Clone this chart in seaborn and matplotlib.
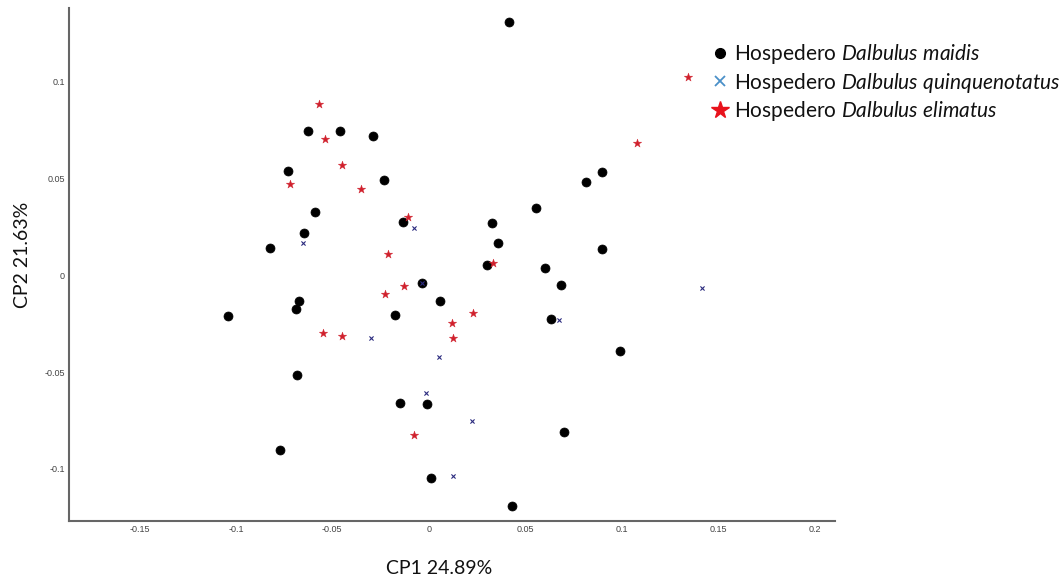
import matplotlib
matplotlib.use("Agg")
import matplotlib.pyplot as plt
from matplotlib.lines import Line2D
import pandas as pd
import seaborn as sns

# PCA scores (CP1, CP2) per host group
maidis_cp1 = [0.0416, -0.0627, -0.0460, -0.0290, -0.0729, -0.0233, -0.0588, -0.0132,
              -0.0648, -0.0823, -0.0035, -0.0671, -0.0686, -0.1039, -0.0173, -0.0684,
              0.0060, 0.0328, 0.0361, 0.0301, 0.0556, 0.0814, 0.0898, 0.0605,
              0.0898, 0.0687, 0.0634, 0.0992, -0.0149, -0.0009, -0.0771, 0.0010,
              0.0703, 0.0430]
maidis_cp2 = [0.1309, 0.0745, 0.0747, 0.0720, 0.0537, 0.0492, 0.0325, 0.0275,
              0.0218, 0.0141, -0.0041, -0.0134, -0.0176, -0.0209, -0.0205, -0.0515,
              -0.0131, 0.0268, 0.0168, 0.0052, 0.0349, 0.0482, 0.0532, 0.0039,
              0.0137, -0.0050, -0.0226, -0.0393, -0.0661, -0.0665, -0.0901, -0.1049,
              -0.0808, -0.1190]

quinque_cp1 = [-0.0653, -0.0075, -0.0298, 0.0055, 0.0674, 0.1417, -0.0014, 0.0226,
               0.0124, -0.0035]
quinque_cp2 = [0.0165, 0.0246, -0.0322, -0.0422, -0.0231, -0.0066, -0.0610, -0.0753,
               -0.1038, -0.0041]

elimatus_cp1 = [-0.0569, -0.0538, -0.0448, -0.0717, -0.0349, -0.0109, -0.0211, -0.0126,
                -0.0225, -0.0546, -0.0451, 0.0333, 0.0228, 0.0121, 0.0126, -0.0075,
                0.1081, 0.1346]
elimatus_cp2 = [0.0885, 0.0702, 0.0568, 0.0473, 0.0447, 0.0303, 0.0112, -0.0054,
                -0.0095, -0.0298, -0.0312, 0.0064, -0.0196, -0.0245, -0.0322, -0.0825,
                0.0682, 0.1026]

x_ticks = [-0.15, -0.1, -0.05, 0, 0.05, 0.1, 0.15, 0.2]
x_tick_labels = ["-0.15", "-0.1", "-0.05", "0", "0.05", "0.1", "0.15", "0.2"]
y_ticks = [-0.1, -0.05, 0, 0.05, 0.1]
y_tick_labels = ["-0.1", "-0.05", "0", "0.05", "0.1"]

legend_labels = [
    r"Hospedero $\mathit{Dalbulus\ maidis}$",
    r"Hospedero $\mathit{Dalbulus\ quinquenotatus}$",
    r"Hospedero $\mathit{Dalbulus\ elimatus}$",
]

sns.set_style("white")
plt.rcParams["font.family"] = ["Lato", "DejaVu Sans"]
plt.rcParams["mathtext.fontset"] = "custom"
plt.rcParams["mathtext.rm"] = "Lato"
plt.rcParams["mathtext.it"] = "Lato:italic"

fig = plt.figure(figsize=(10.63, 5.86), dpi=100)
ax = fig.add_axes([0.0649, 0.1114, 0.7206, 0.8749])

df_m = pd.DataFrame({"cp1": maidis_cp1, "cp2": maidis_cp2})
df_q = pd.DataFrame({"cp1": quinque_cp1, "cp2": quinque_cp2})
df_e = pd.DataFrame({"cp1": elimatus_cp1, "cp2": elimatus_cp2})

sns.scatterplot(data=df_m, x="cp1", y="cp2", ax=ax, marker="o", s=42,
                color="black", edgecolor="black", linewidth=0.5, zorder=2)
sns.scatterplot(data=df_e, x="cp1", y="cp2", ax=ax, marker="*", s=40,
                color="#d0202c", edgecolor="#d0202c", linewidth=0.3, zorder=3)
sns.scatterplot(data=df_q, x="cp1", y="cp2", ax=ax, marker="x", s=9,
                color="#2a2a7e", linewidth=0.8, zorder=4)

ax.set_xlim(-0.1865, 0.2106)
ax.set_ylim(-0.1268, 0.138)
ax.set_xticks(x_ticks)
ax.set_xticklabels(x_tick_labels, family=["Liberation Sans", "DejaVu Sans"])
ax.set_yticks(y_ticks)
ax.set_yticklabels(y_tick_labels, family=["Liberation Sans", "DejaVu Sans"])
ax.tick_params(axis="both", direction="in", length=9, width=1.0, color="#333333",
               labelsize=6.5, labelcolor="#444444", pad=3)

for side in ("top", "right"):
    ax.spines[side].set_visible(False)
for side in ("left", "bottom"):
    ax.spines[side].set_color("#666666")
    ax.spines[side].set_linewidth(1.5)

ax.set_xlabel("")
ax.set_ylabel("")
fig.text(439 / 1063, 1 - 569 / 586, "CP1 24.89%", ha="center", va="center",
         fontsize=14, color="#111111")
fig.text(22 / 1063, 1 - 255 / 586, "CP2 21.63%", ha="center", va="center",
         rotation=90, fontsize=14, color="#111111")

handles = [
    Line2D([], [], linestyle="none", marker="o", markersize=7, color="black"),
    Line2D([], [], linestyle="none", marker="x", markersize=7, markeredgewidth=1.3,
           color="#4a90c8"),
    Line2D([], [], linestyle="none", marker="*", markersize=13, color="#e8121c"),
]
leg = fig.legend(handles, legend_labels, loc="upper left",
                 bbox_to_anchor=(712 / 1063, 1 - 42 / 586), frameon=False,
                 fontsize=15, handlelength=0.8, handletextpad=0.25,
                 labelspacing=0.22, borderpad=0, borderaxespad=0)
for t in leg.get_texts():
    t.set_color("#111111")

fig.savefig("out.png", dpi=100)
